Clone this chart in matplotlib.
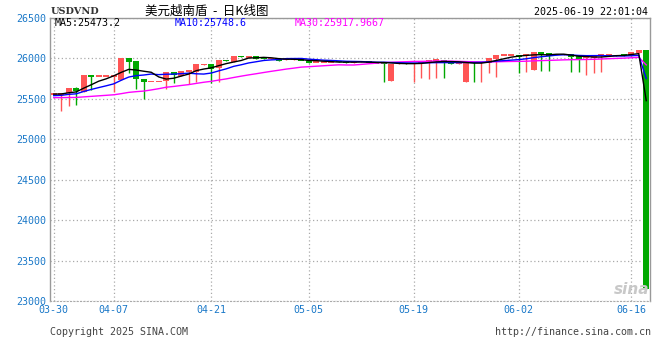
import numpy as np
import pandas as pd
import matplotlib
matplotlib.use("Agg")
import matplotlib.pyplot as plt

# USD/VND daily candles, 03-30 .. 06-19
opens = [25555, 25550, 25564, 25633, 25576, 25790, 25775, 25775, 25772, 25728,
         26004, 25963, 25741, 25710, 25710, 25720, 25823, 25782, 25835, 25831,
         25917, 25926, 25872, 25970, 25955, 26019, 26012, 26025, 25998, 25993,
         25988, 25980, 25980, 25978, 25967, 25950, 25950, 25950, 25967, 25945,
         25945, 25947, 25963, 25947, 25937, 25720, 25930, 25930, 25925, 25940,
         25955, 25970, 25975, 25935, 25933, 25707, 25950, 25938, 25935, 25988,
         26032, 26032, 26037, 26035, 25852, 26070, 26058, 26040, 26040, 26045,
         26025, 26003, 26010, 26040, 26040, 26033, 26045, 26029, 26066, 26099]
closes = [25560, 25560, 25633, 25596, 25790, 25770, 25780, 25780, 25780, 26004,
          25955, 25737, 25707, 25716, 25716, 25823, 25790, 25840, 25840, 25926,
          25922, 25864, 25975, 25967, 26025, 26016, 26016, 25988, 25995, 25998,
          25963, 25983, 25983, 25975, 25942, 25952, 25952, 25955, 25947, 25943,
          25947, 25963, 25942, 25935, 25935, 25922, 25932, 25928, 25935, 25947,
          25975, 25975, 25947, 25933, 25935, 25935, 25935, 25945, 25996, 26037,
          26037, 26037, 26009, 26040, 26070, 26049, 26029, 26045, 26045, 26009,
          25983, 26009, 26015, 26045, 26045, 26030, 26025, 26070, 26099, 23142]
highs = [25565, 25565, 25633, 25646, 25790, 25790, 25785, 25785, 25785, 26004,
         26004, 25963, 25741, 25716, 25716, 25823, 25823, 25840, 25840, 25926,
         25925, 25926, 25975, 25970, 26025, 26019, 26018, 26025, 26000, 26000,
         25988, 25985, 25985, 25980, 25967, 25955, 25955, 25958, 25967, 25948,
         25950, 25963, 25963, 25947, 25937, 25922, 25935, 25933, 25935, 25947,
         25975, 25975, 25975, 25937, 25937, 25935, 25950, 25945, 25996, 26037,
         26040, 26040, 26037, 26040, 26070, 26070, 26058, 26048, 26048, 26045,
         26025, 26009, 26015, 26045, 26045, 26035, 26045, 26070, 26099, 26099]
lows = [25545, 25345, 25410, 25425, 25576, 25605, 25775, 25775, 25584, 25728,
        25810, 25613, 25490, 25710, 25710, 25613, 25687, 25782, 25675, 25707,
        25917, 25687, 25700, 25965, 25955, 26014, 26012, 25988, 25993, 25993,
        25963, 25980, 25980, 25975, 25942, 25948, 25948, 25950, 25947, 25940,
        25943, 25947, 25942, 25935, 25707, 25720, 25928, 25926, 25707, 25750,
        25745, 25757, 25757, 25930, 25930, 25707, 25707, 25707, 25811, 25770,
        26032, 26032, 25819, 25831, 25852, 25843, 25843, 26040, 26040, 25831,
        25831, 25790, 25811, 25831, 26040, 26028, 26025, 26029, 26066, 23142]
# closes before 03-30, only used to start the moving averages
prev_closes = [25560, 25580, 25570, 25590, 25575, 25585, 25590, 25580, 25590, 25480,
               25470, 25490, 25300, 25250, 25280, 25500, 25490, 25510, 25480, 25500,
               25520, 25510, 25530, 25500, 25520, 25550, 25560, 25540, 25560]

tick_idx = [0, 8, 21, 34, 48, 62, 77]
tick_lab = ['03-30', '04-07', '04-21', '05-05', '05-19', '06-02', '06-16']

mono = 'DejaVu Sans Mono'
red = '#ff5555'
green = '#00a800'
blue_txt = '#1a78c8'

allc = pd.Series(prev_closes + closes, dtype=float)
n_prev = len(prev_closes)
ma5 = allc.rolling(5).mean().values[n_prev:]
ma10 = allc.rolling(10).mean().values[n_prev:]
ma30 = allc.rolling(30).mean().values[n_prev:]

fig = plt.figure(figsize=(6.6, 3.6), dpi=100)
ax = fig.add_axes([50 / 660, 1 - 301 / 360, 600 / 660, (301 - 17.5) / 360])

x = np.arange(len(closes))
for i in x:
    o, c, h, l = opens[i], closes[i], highs[i], lows[i]
    col = red if c >= o else green
    ax.vlines(i, l, h, color=col, lw=1, zorder=2)
    body = max(abs(c - o), 18)
    ax.bar(i, body, bottom=min(o, c) - (body - abs(c - o)) / 2, width=0.76,
           color=col, lw=0, zorder=3)

ax.plot(x, ma30, color='#ff00ff', lw=1.0, zorder=4)
ax.plot(x, ma10, color='#0000ff', lw=1.0, zorder=5)
ax.plot(x, ma5, color='black', lw=1.0, zorder=6)

ax.set_xlim(-0.5, len(closes) - 0.5)
ax.set_ylim(23000, 26500)
ax.set_yticks(np.arange(23000, 26501, 500))
ax.set_xticks(tick_idx)
ax.set_xticklabels(tick_lab)
ax.tick_params(length=0, labelsize=7.2, labelcolor=blue_txt, pad=3)
for t in ax.get_xticklabels() + ax.get_yticklabels():
    t.set_family(mono)
ax.grid(color='#aaaaaa', linestyle=(0, (1, 2)), lw=0.9)
ax.set_axisbelow(True)
for s in ['top', 'left', 'right']:
    ax.spines[s].set_color('#999999')
    ax.spines[s].set_linewidth(1)
ax.spines['bottom'].set_color('#aaaaaa')
ax.spines['bottom'].set_linestyle((0, (1, 2)))

# header texts
fig.text(51 / 660, 1 - 11 / 360, 'USDVND', family='DejaVu Serif', fontsize=7,
         weight='bold', va='center', ha='left', color='#333333')
fig.text(207 / 660, 1 - 11 / 360, '美元越南盾  -  日K线图',
         family=['Noto Sans CJK SC', 'DejaVu Sans'], fontsize=9,
         va='center', ha='center', color='black')
fig.text(648 / 660, 1 - 12 / 360, '2025-06-19 22:01:04', family=mono,
         fontsize=7.2, va='center', ha='right', color='black')
fig.text(55 / 660, 1 - 23 / 360, 'MA5:%.1f' % 25473.2, family=mono,
         fontsize=7.2, va='center', color='black')
fig.text(175 / 660, 1 - 23 / 360, 'MA10:%.1f' % 25748.6, family=mono,
         fontsize=7.2, va='center', color='#0000ff')
fig.text(295 / 660, 1 - 23 / 360, 'MA30:25917.9667', family=mono,
         fontsize=7.2, va='center', color='#ff00ff')

# footer + watermark
fig.text(50 / 660, 1 - 332 / 360, 'Copyright 2025 SINA.COM', family=mono,
         fontsize=7.2, va='center', color='#444444')
fig.text(651 / 660, 1 - 332 / 360, 'http://finance.sina.com.cn', family=mono,
         fontsize=7.2, va='center', ha='right', color='#444444')
fig.text(632 / 660, 1 - 289 / 360, 'sina', fontsize=11, style='italic',
         weight='bold', color='#c8c8c8', ha='center', va='center', zorder=1)

fig.savefig('out.png', dpi=100)
